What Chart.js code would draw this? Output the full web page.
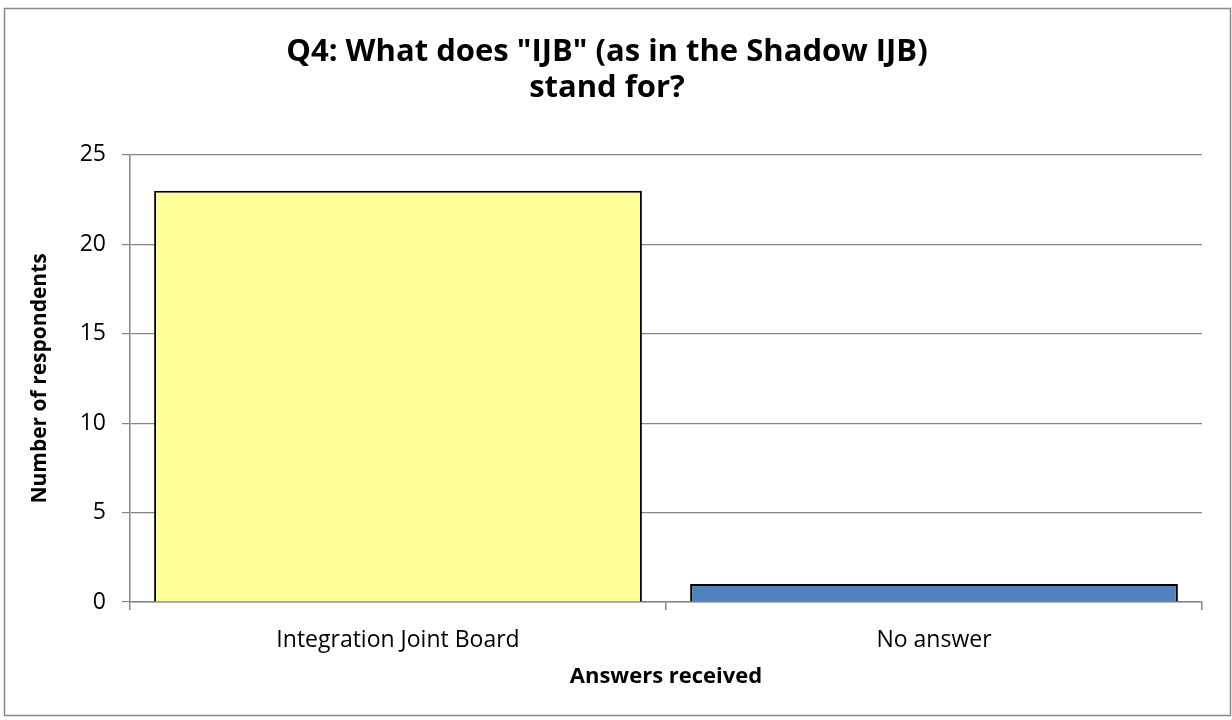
<!DOCTYPE html>
<html lang="en">
<head>
    <meta charset="UTF-8">
    <title>Q4 IJB</title>
    <script src="https://cdn.jsdelivr.net/npm/chart.js"></script>
    <style>
        body { margin: 0; background: #fff; }
        .wrap { width: 1232px; height: 720px; }
    </style>
</head>
<body>
    <div class="wrap"><canvas id="chart"></canvas></div>

    <script>
        // chart data
        const categories = ["Integration Joint Board", "No answer"];
        const respondents = [23, 1];
        const barColors = ["#FFFF99", "#4F81BD"];
        const titleLines = ['Q4: What does "IJB" (as in the Shadow IJB)', 'stand for?'];

        const FONT = "'Open Sans', sans-serif";
        const GRID = "#868686";

        // outer frame like the spreadsheet chart area
        const framePlugin = {
            id: 'frame',
            beforeDraw(chart) {
                const ctx = chart.ctx;
                ctx.save();
                ctx.fillStyle = '#fff';
                ctx.fillRect(0, 0, chart.width, chart.height);
                ctx.strokeStyle = '#888';
                ctx.lineWidth = 1.5;
                ctx.strokeRect(4.5, 8.5, chart.width - 6, chart.height - 13);
                ctx.restore();
            }
        };

        new Chart(document.getElementById("chart"), {
            type: 'bar',
            data: {
                labels: categories,
                datasets: [{
                    data: respondents,
                    backgroundColor: barColors,
                    borderColor: '#000',
                    borderWidth: 2,
                    barPercentage: 0.91,
                    categoryPercentage: 1
                }]
            },
            plugins: [framePlugin],
            options: {
                responsive: true,
                maintainAspectRatio: false,
                animation: false,
                layout: { padding: { top: 8, left: 12, right: 30, bottom: 20 } },
                plugins: {
                    legend: { display: false },
                    tooltip: { enabled: false },
                    title: {
                        display: true,
                        text: titleLines,
                        color: '#000',
                        font: { family: FONT, size: 31, weight: 'bold', lineHeight: 1.16 },
                        padding: { top: 26, bottom: 49 }
                    }
                },
                scales: {
                    x: {
                        grid: { offset: true, drawOnChartArea: false, color: GRID, tickLength: 8, lineWidth: 1.5 },
                        border: { color: GRID, width: 1.5 },
                        ticks: { color: '#000', font: { family: FONT, size: 23 }, padding: 17 },
                        title: {
                            display: true, text: 'Answers received', color: '#000',
                            font: { family: FONT, size: 22, weight: 'bold' },
                            padding: { bottom: 10 }
                        },
                        afterFit(scale) { scale.height = 98; }
                    },
                    y: {
                        min: 0, max: 25,
                        ticks: { stepSize: 5, color: '#000', font: { family: FONT, size: 23 }, padding: 16 },
                        grid: { color: GRID, tickLength: 8, lineWidth: 1.2 },
                        border: { color: GRID, width: 1.5 },
                        title: {
                            display: true, text: 'Number of respondents', color: '#000',
                            font: { family: FONT, size: 21, weight: 'bold' },
                            padding: { top: 15 }
                        },
                        afterFit(scale) { scale.width = 118; }
                    }
                }
            }
        });
    </script>
</body>
</html>
